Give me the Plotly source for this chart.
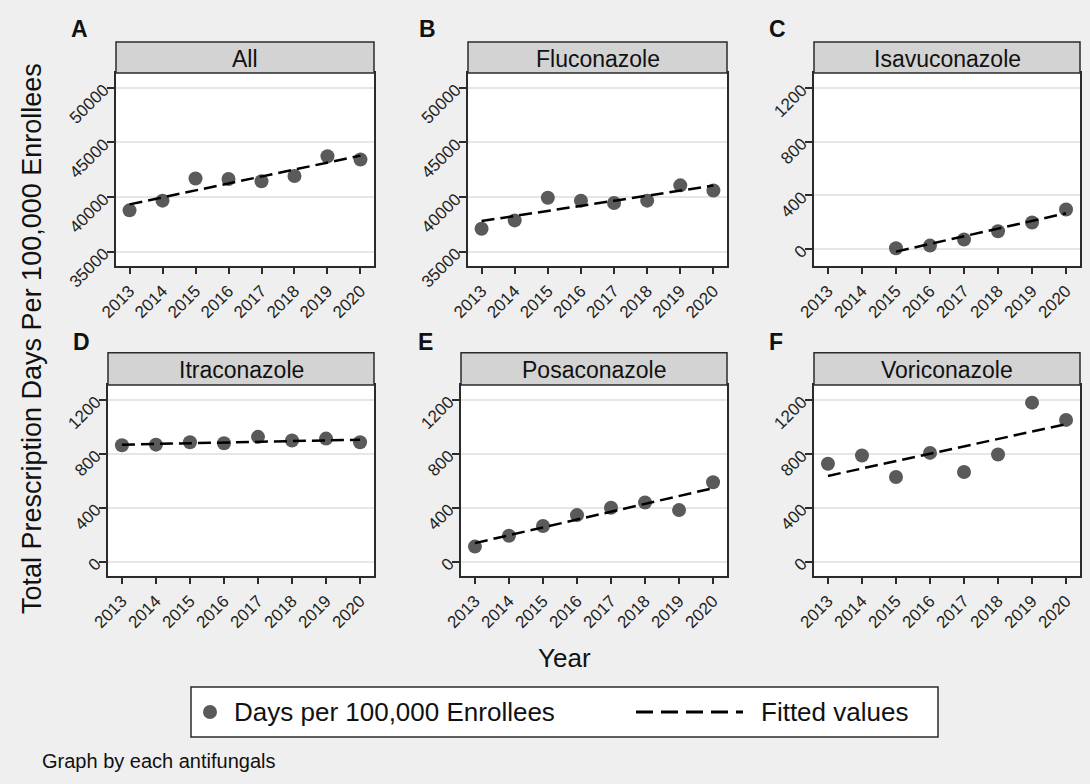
import plotly.graph_objects as go

# ---------------- data ----------------
years = [2013, 2014, 2015, 2016, 2017, 2018, 2019, 2020]
year_labels = [str(y) for y in years]

panel_names = ["All", "Fluconazole", "Isavuconazole", "Itraconazole", "Posaconazole", "Voriconazole"]
panel_letters = ["A", "B", "C", "D", "E", "F"]

all_days = [38780, 39670, 41690, 41650, 41440, 41930, 43730, 43430]
fluconazole_days = [37100, 37860, 39940, 39670, 39450, 39670, 41070, 40600]
isavuconazole_days = [None, None, 5, 25, 70, 132, 197, 294]
itraconazole_days = [864, 868, 886, 879, 926, 899, 913, 886]
posaconazole_days = [111, 192, 264, 345, 400, 439, 382, 589]
voriconazole_days = [726, 788, 628, 807, 665, 795, 1180, 1052]

# fitted (linear) values read at the first and last year of each series
fit_first_year = [2013, 2013, 2015, 2013, 2013, 2013]
fit_last_year = [2020, 2020, 2020, 2020, 2020, 2020]
fit_first_value = [39330, 37800, -20, 868, 137, 636]
fit_last_value = [43790, 41050, 266, 905, 545, 1020]

big_ticks = [35000, 40000, 45000, 50000]
small_ticks = [0, 400, 800, 1200]

series = [all_days, fluconazole_days, isavuconazole_days,
          itraconazole_days, posaconazole_days, voriconazole_days]

legend_labels = ["Days per 100,000 Enrollees", "Fitted values"]

# ---------------- layout geometry (pixels) ----------------
W, H = 1090, 784
col_x = [(116, 374), (468, 727), (814, 1080), (108, 374), (461, 727), (814, 1080)]
row_plot = [(73, 265.7), (385, 575.7)]
row_strip = [(42, 73), (352.7, 385)]
y_ranges = [(33716, 51350), (33716, 51350), (-125, 1312), (-105, 1311), (-105, 1311), (-105, 1311)]
x_range = (2012.59, 2020.41)

FONT = "Liberation Sans, Arial, Helvetica, sans-serif"
BG = "#efefef"
DOT = "#5a5a5a"
FRAME = "#2b2b2b"


def px(x):
    return x / W


def py(y):
    return 1 - y / H


fig = go.Figure()
layout_axes = {}
shapes = []
annotations = []

for i in range(6):
    r = 0 if i < 3 else 1
    xs = "" if i == 0 else str(i + 1)
    x0, x1 = col_x[i]
    py0, py1 = row_plot[r]
    sy0, sy1 = row_strip[r]

    fig.add_trace(go.Scatter(
        x=years, y=series[i], mode="markers",
        marker=dict(color=DOT, size=14, line=dict(width=0)),
        name=legend_labels[0], showlegend=False, hoverinfo="skip",
        xaxis="x" + xs, yaxis="y" + xs, cliponaxis=False))
    fig.add_trace(go.Scatter(
        x=[fit_first_year[i], fit_last_year[i]],
        y=[fit_first_value[i], fit_last_value[i]], mode="lines",
        line=dict(color="black", width=2.5, dash="13px,6px"),
        name=legend_labels[1], showlegend=False, hoverinfo="skip",
        xaxis="x" + xs, yaxis="y" + xs))

    yt = big_ticks if i < 2 else small_ticks
    layout_axes["xaxis" + xs] = dict(
        domain=[px(x0), px(x1)], anchor="y" + xs, range=list(x_range),
        tickmode="array", tickvals=years, ticktext=year_labels, automargin=False,
        tickangle=-45, ticks="outside", ticklen=7, tickwidth=1.5, tickcolor=FRAME,
        showline=True, linecolor=FRAME, linewidth=1.5, mirror=True,
        showgrid=False, zeroline=False,
        tickfont=dict(family=FONT, size=17, color="#222"))
    layout_axes["yaxis" + xs] = dict(
        domain=[py(py1), py(py0)], anchor="x" + xs, range=list(y_ranges[i]),
        tickmode="array", tickvals=yt, ticktext=[str(v) for v in yt], automargin=False,
        tickangle=-45, ticks="outside", ticklen=7, tickwidth=1.5, tickcolor=FRAME,
        showline=True, linecolor=FRAME, linewidth=1.5, mirror=True,
        showgrid=True, gridcolor="#e6e6e6", gridwidth=1.5, zeroline=False,
        tickfont=dict(family=FONT, size=17, color="#222"))

    # strip header
    shapes.append(dict(type="rect", xref="paper", yref="paper",
                       x0=px(x0), x1=px(x1), y0=py(sy1), y1=py(sy0),
                       fillcolor="#d3d3d3", line=dict(color=FRAME, width=1.5), layer="above"))
    annotations.append(dict(text=panel_names[i], xref="paper", yref="paper",
                            x=px((x0 + x1) / 2), y=py((sy0 + sy1) / 2 + 1),
                            showarrow=False, xanchor="center", yanchor="middle",
                            font=dict(family=FONT, size=23, color="#111")))

# panel letters
letter_pos = [(79, 29), (427, 29), (777, 29), (81, 342), (425, 342), (776, 342)]
for (lx, ly), letter in zip(letter_pos, panel_letters):
    annotations.append(dict(text="<b>" + letter + "</b>", xref="paper", yref="paper",
                            x=px(lx), y=py(ly), showarrow=False,
                            xanchor="center", yanchor="middle",
                            font=dict(family=FONT, size=23, color="#111")))

annotations.append(dict(text="Total Prescription Days Per 100,000 Enrollees",
                        xref="paper", yref="paper", x=px(32), y=py(339),
                        textangle=-90, showarrow=False, xanchor="center", yanchor="middle",
                        font=dict(family=FONT, size=27, color="#111")))
annotations.append(dict(text="Year", xref="paper", yref="paper", x=px(564), y=py(658),
                        showarrow=False, xanchor="center", yanchor="middle",
                        font=dict(family=FONT, size=26, color="#111")))
annotations.append(dict(text="Graph by each antifungals", xref="paper", yref="paper",
                        x=px(40), y=py(761), showarrow=False, xanchor="left", yanchor="middle",
                        font=dict(family=FONT, size=20, color="#111")))

# legend box (drawn in paper coordinates)
shapes.append(dict(type="rect", xref="paper", yref="paper",
                   x0=px(191), x1=px(938), y0=py(737), y1=py(687),
                   fillcolor="white", line=dict(color=FRAME, width=1.5)))
shapes.append(dict(type="circle", xref="paper", yref="paper",
                   x0=px(203), x1=px(217), y0=py(719), y1=py(705),
                   fillcolor=DOT, line=dict(width=0)))
shapes.append(dict(type="line", xref="paper", yref="paper",
                   x0=px(636), x1=px(743), y0=py(712), y1=py(712),
                   line=dict(color="black", width=3, dash="17px,8px")))
annotations.append(dict(text=legend_labels[0], xref="paper", yref="paper",
                        x=px(232), y=py(712), showarrow=False, xanchor="left", yanchor="middle",
                        font=dict(family=FONT, size=26, color="#111")))
annotations.append(dict(text=legend_labels[1], xref="paper", yref="paper",
                        x=px(759), y=py(712), showarrow=False, xanchor="left", yanchor="middle",
                        font=dict(family=FONT, size=26, color="#111")))

fig.update_layout(
    width=W, height=H, margin=dict(l=0, r=0, t=0, b=0, autoexpand=False),
    paper_bgcolor=BG, plot_bgcolor="white",
    font=dict(family=FONT), showlegend=False, hovermode=False,
    shapes=shapes, annotations=annotations,
    **layout_axes)

fig.write_html("out.html", config={"displayModeBar": False},
               post_script="document.body.style.margin='0';document.body.style.overflow='hidden';")
